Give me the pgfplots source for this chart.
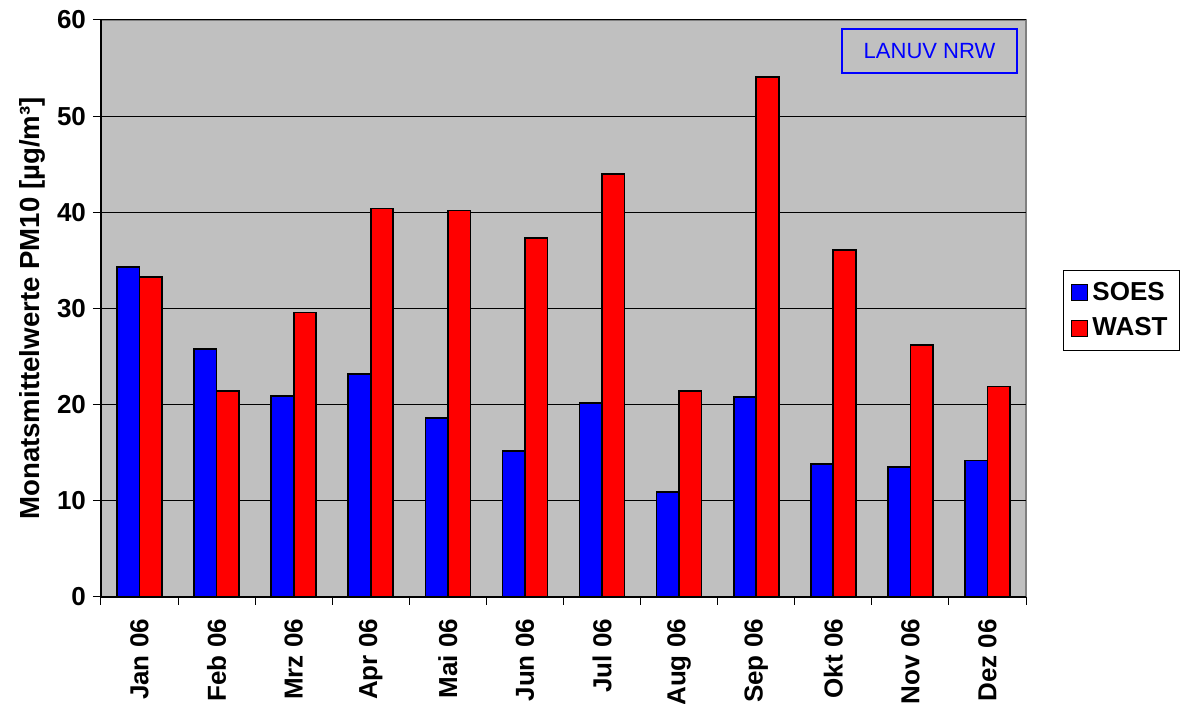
\documentclass[border=0pt]{standalone}
\usepackage{fontspec}
\setmainfont{Liberation Sans}
\usepackage{pgfplots}
\pgfplotsset{compat=1.18}
\definecolor{plotgray}{RGB}{192,192,192}
\definecolor{barblue}{RGB}{0,0,255}
\definecolor{barred}{RGB}{255,0,0}
\pgfplotstableread{
x soes wast
0 34.3 33.3
1 25.8 21.4
2 20.9 29.6
3 23.2 40.4
4 18.6 40.2
5 15.2 37.3
6 20.2 44.0
7 10.9 21.4
8 20.8 54.1
9 13.8 36.1
10 13.5 26.2
11 14.2 21.9
}\datatable
\begin{document}
\begin{tikzpicture}
\useasboundingbox (0,0) rectangle (590pt,352pt);
\begin{axis}[
  at={(50.5pt,53.5pt)}, anchor=south west,
  scale only axis, width=462.5pt, height=288.5pt,
  ybar=0pt, bar width=11.25pt,
  xmin=-0.5, xmax=11.5, ymin=0, ymax=60,
  xtick={0,...,11},
  xticklabels={Jan 06, Feb 06, Mrz 06, Apr 06, Mai 06, Jun 06, Jul 06, Aug 06, Sep 06, Okt 06, Nov 06, Dez 06},
  minor xtick={-0.5,0.5,...,11.5},
  ytick={0,10,...,60},
  axis lines*=left,
  axis line style={black, line width=0.6pt},
  tick align=outside,
  major tick length=4pt, minor tick length=4pt,
  major x tick style={draw=none},
  minor x tick style={black, line width=0.5pt},
  major y tick style={black, line width=0.5pt},
  ymajorgrids, major grid style={black, line width=0.5pt},
  axis background/.style={fill=plotgray, draw=gray, line width=0.8pt},
  /pgf/number format/assume math mode=true,
  ticklabel style={font=\bfseries\fontsize{13}{15}\selectfont},
  xticklabel style={rotate=90, anchor=east, xshift=-3.5pt, font=\bfseries\fontsize{13}{15}\selectfont},
  ylabel={Monatsmittelwerte PM10 [µg/m³]},
  ylabel style={font=\bfseries\fontsize{13.8}{16}\selectfont, yshift=-1pt},
  legend style={at={(rel axis cs:1.040,0.567)}, anchor=north west, draw=black, line width=0.5pt,
    font=\bfseries\fontsize{13}{15}\selectfont, row sep=3pt, inner sep=4pt},
  legend cell align=left,
]
\addplot[fill=barblue, draw=black, line width=0.8pt,
  legend image code/.code={\draw[fill=barblue, draw=black, line width=0.5pt] (0pt,-4pt) rectangle (8pt,4pt);}]
  table[x=x, y=soes] {\datatable};
\addlegendentry{SOES}
\addplot[fill=barred, draw=black, line width=0.8pt,
  legend image code/.code={\draw[fill=barred, draw=black, line width=0.5pt] (0pt,-4pt) rectangle (8pt,4pt);}]
  table[x=x, y=wast] {\datatable};
\addlegendentry{WAST}
\node[draw=barblue, line width=1pt, text=barblue, minimum width=87.5pt, minimum height=22pt,
  font=\fontsize{11}{13}\selectfont] at (rel axis cs:0.8957,0.946) {LANUV NRW};
\end{axis}
\end{tikzpicture}
\end{document}
